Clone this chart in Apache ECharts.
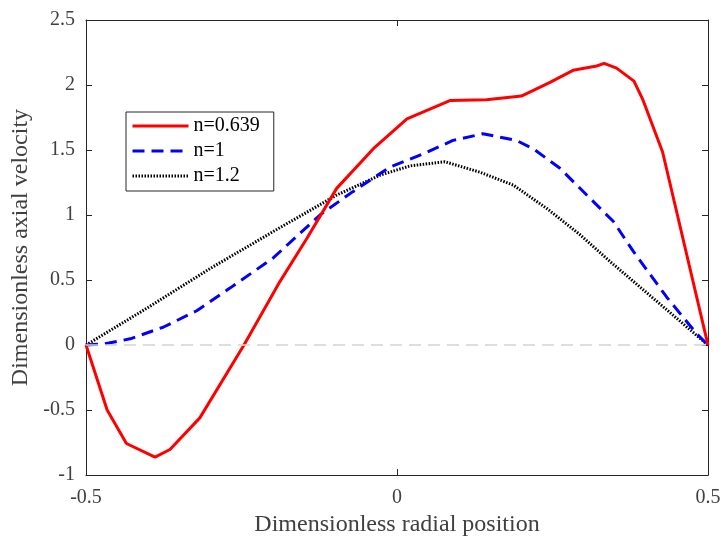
<!DOCTYPE html>
<html>
<head>
<meta charset="utf-8">
<script src="https://cdn.jsdelivr.net/npm/echarts@6/dist/echarts.min.js"></script>
<style>
  html, body { margin: 0; padding: 0; background: #fff; }
  #chart { width: 724px; height: 542px; }
</style>
</head>
<body>
<div id="chart"></div>
<script>
// values
const seriesNames = ['n=0.639', 'n=1', 'n=1.2']

const xRed = [-0.5, -0.466, -0.435, -0.389, -0.365, -0.317, -0.246, -0.188, -0.145, -0.097, -0.038, 0.016, 0.085, 0.144, 0.2, 0.246, 0.283, 0.321, 0.333, 0.353, 0.381, 0.395, 0.427, 0.5]
const yRed = [0, -0.5, -0.757, -0.862, -0.803, -0.56, 0, 0.49, 0.82, 1.205, 1.51, 1.74, 1.88, 1.886, 1.915, 2.02, 2.113, 2.146, 2.166, 2.13, 2.03, 1.89, 1.485, 0]

const xBlue = [-0.5, -0.47, -0.429, -0.376, -0.322, -0.268, -0.199, -0.124, -0.071, -0.011, 0.042, 0.09, 0.138, 0.192, 0.219, 0.262, 0.305, 0.348, 0.38, 0.434, 0.482, 0.5]
const yBlue = [0, 0.01, 0.048, 0.137, 0.264, 0.44, 0.67, 1.0, 1.18, 1.37, 1.47, 1.574, 1.625, 1.574, 1.51, 1.36, 1.154, 0.95, 0.72, 0.366, 0.086, 0]

const xBlack = [-0.5, -0.4, -0.3, -0.2, -0.097, -0.027, 0.021, 0.077, 0.133, 0.187, 0.241, 0.294, 0.348, 0.38, 0.434, 0.5]
const yBlack = [0, 0.29, 0.59, 0.87, 1.154, 1.307, 1.378, 1.41, 1.33, 1.23, 1.05, 0.85, 0.62, 0.49, 0.27, 0]

const zip = (xs, ys) => xs.map((x, i) => [x, ys[i]])

const font = 'Liberation Serif'
const axisColor = '#262626'
const labelColor = '#404040'

const chart = echarts.init(document.getElementById('chart'))

const tickInside = { show: true, inside: true, length: 6, lineStyle: { color: axisColor } }

const option = {
  animation: false,
  backgroundColor: '#fff',
  grid: { left: 86, right: 16, top: 20, bottom: 63 },
  legend: {
    left: 126,
    top: 112,
    orient: 'vertical',
    data: seriesNames,
    itemWidth: 56,
    itemHeight: 14,
    itemGap: 5,
    padding: [4, 14, 5, 5],
    borderColor: '#262626',
    borderWidth: 1,
    backgroundColor: '#fff',
    itemStyle: { opacity: 0 },
    lineStyle: { width: 3 },
    textStyle: { fontFamily: font, fontSize: 20, color: '#000' }
  },
  xAxis: [
    {
      type: 'value',
      min: -0.5,
      max: 0.5,
      interval: 0.5,
      name: 'Dimensionless radial position',
      nameLocation: 'middle',
      nameGap: 32,
      nameTextStyle: { fontFamily: font, fontSize: 24, color: labelColor },
      axisLine: { onZero: false, lineStyle: { color: axisColor } },
      axisTick: tickInside,
      axisLabel: { fontFamily: font, fontSize: 20, color: labelColor, margin: 13 },
      splitLine: { show: false }
    },
    {
      type: 'value',
      position: 'top',
      min: -0.5,
      max: 0.5,
      interval: 0.5,
      axisLine: { show: true, onZero: false, lineStyle: { color: axisColor } },
      axisTick: tickInside,
      axisLabel: { show: false },
      splitLine: { show: false }
    }
  ],
  yAxis: [
    {
      type: 'value',
      min: -1,
      max: 2.5,
      interval: 0.5,
      name: 'Dimensionless axial velocity',
      nameLocation: 'middle',
      nameGap: 51,
      nameTextStyle: { fontFamily: font, fontSize: 24, color: labelColor },
      axisLine: { show: true, onZero: false, lineStyle: { color: axisColor } },
      axisTick: tickInside,
      axisLabel: { fontFamily: font, fontSize: 20, color: labelColor, margin: 11 },
      splitLine: { show: false }
    },
    {
      type: 'value',
      position: 'right',
      min: -1,
      max: 2.5,
      interval: 0.5,
      axisLine: { show: true, onZero: false, lineStyle: { color: axisColor } },
      axisTick: tickInside,
      axisLabel: { show: false },
      splitLine: { show: false }
    }
  ],
  series: [
    {
      name: seriesNames[0],
      type: 'line',
      data: zip(xRed, yRed),
      symbol: 'none',
      lineStyle: { color: '#ff0000', width: 3 },
      itemStyle: { color: '#ff0000' },
      markLine: {
        silent: true,
        symbol: 'none',
        label: { show: false },
        lineStyle: { color: '#d4d4d4', type: [12, 7], width: 1.5 },
        data: [{ yAxis: 0 }]
      },
      z: 3
    },
    {
      name: seriesNames[1],
      type: 'line',
      data: zip(xBlue, yBlue),
      symbol: 'none',
      lineStyle: { color: '#0000ff', width: 3, type: [12, 7] },
      itemStyle: { color: '#0000ff' },
      z: 2
    },
    {
      name: seriesNames[2],
      type: 'line',
      data: zip(xBlack, yBlack),
      symbol: 'none',
      lineStyle: { color: '#000000', width: 3, type: [1.5, 1.5] },
      itemStyle: { color: '#000000' },
      z: 1
    }
  ]
}

chart.setOption(option)
</script>
</body>
</html>
